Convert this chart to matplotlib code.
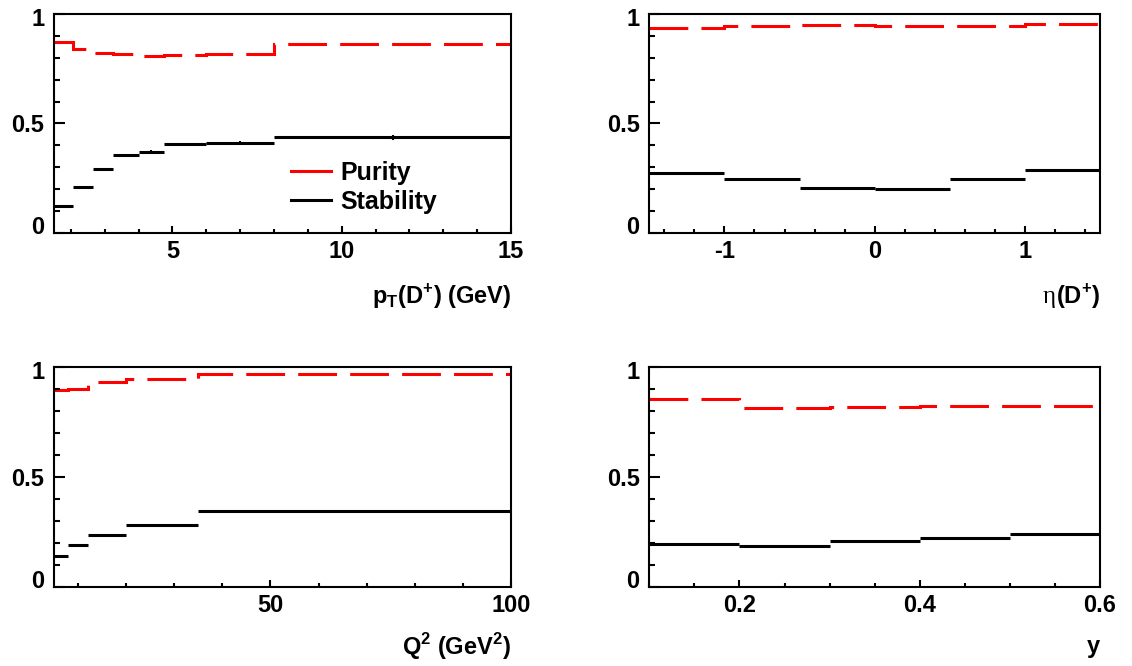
import numpy as np
import matplotlib
matplotlib.use('Agg')
import matplotlib.pyplot as plt
from matplotlib.ticker import MultipleLocator, FixedLocator, FixedFormatter
from matplotlib.lines import Line2D
from matplotlib.transforms import ScaledTranslation

plt.rcParams['font.family'] = ['Liberation Sans', 'DejaVu Sans']
plt.rcParams['font.weight'] = 'bold'
plt.rcParams['axes.labelweight'] = 'bold'
plt.rcParams['axes.unicode_minus'] = False

# pT(D+) bins
pt_edges = [1.5, 2.07, 2.65, 3.25, 4.0, 4.75, 6.0, 8.0, 15.0]
pt_purity = [0.872, 0.842, 0.821, 0.818, 0.808, 0.811, 0.818, 0.862]
pt_stab = [0.125, 0.210, 0.290, 0.354, 0.372, 0.407, 0.413, 0.436]
pt_err = [0.004, 0.004, 0.004, 0.005, 0.005, 0.006, 0.007, 0.010]

# eta(D+) bins
eta_edges = [-1.5, -1.0, -0.5, 0.0, 0.5, 1.0, 1.5]
eta_purity = [0.938, 0.947, 0.948, 0.945, 0.947, 0.954]
eta_stab = [0.274, 0.248, 0.204, 0.202, 0.248, 0.287]
eta_err = [0.004, 0.004, 0.004, 0.004, 0.004, 0.004]

# Q2 bins
q2_edges = [5, 8, 12, 20, 35, 100]
q2_purity = [0.893, 0.898, 0.932, 0.944, 0.968]
q2_stab = [0.142, 0.193, 0.236, 0.284, 0.347]
q2_err = [0.004, 0.004, 0.004, 0.004, 0.004]

# y bins
y_edges = [0.1, 0.2, 0.3, 0.4, 0.5, 0.6]
y_purity = [0.852, 0.811, 0.816, 0.823, 0.823]
y_stab = [0.195, 0.187, 0.211, 0.224, 0.242]
y_err = [0.004, 0.004, 0.004, 0.004, 0.004]

FS = 17
DASH = (0, (12.7, 4.3))

fig = plt.figure(figsize=(11.32, 6.66), dpi=100)
ax1 = fig.add_axes([0.0477, 0.6502, 0.4037, 0.3288])
ax2 = fig.add_axes([0.5736, 0.6502, 0.3981, 0.3288])
ax3 = fig.add_axes([0.0477, 0.1182, 0.4037, 0.3312])
ax4 = fig.add_axes([0.5736, 0.1182, 0.3981, 0.3312])


def panel(ax, edges, pur, stab, err, xmajor, xlabels, xminor, xlabel, labely):
    edges = np.array(edges)
    ax.stairs(pur, edges, baseline=None, color='red', lw=2.2, linestyle=DASH)
    ax.hlines(stab, edges[:-1], edges[1:], color='black', lw=2.2, capstyle='butt')
    centers = 0.5 * (edges[:-1] + edges[1:])
    ax.errorbar(centers, stab, yerr=err, fmt='none', ecolor='black', elinewidth=1.5, capsize=0)
    ax.set_xlim(edges[0], edges[-1])
    ax.set_ylim(0, 1)
    ax.xaxis.set_major_locator(FixedLocator(xmajor))
    ax.xaxis.set_major_formatter(FixedFormatter(xlabels))
    ax.xaxis.set_minor_locator(MultipleLocator(xminor))
    ax.yaxis.set_major_locator(FixedLocator([0, 0.5, 1]))
    ax.yaxis.set_major_formatter(FixedFormatter(['0', '0.5', '1']))
    ax.yaxis.set_minor_locator(MultipleLocator(0.1))
    ax.tick_params(axis='both', which='both', direction='in', width=1.5,
                   top=False, right=False, labelsize=FS)
    ax.tick_params(axis='y', which='major', length=8, pad=7)
    ax.tick_params(axis='y', which='minor', length=4.3)
    ax.tick_params(axis='x', which='major', length=5, pad=5)
    ax.tick_params(axis='x', which='minor', length=3)
    for s in ax.spines.values():
        s.set_linewidth(1.5)
    # ROOT nudges the end labels of the y axis inwards
    for t, dy in zip(ax.yaxis.get_major_ticks(), [8, 0, -3.5]):
        t.label1.set_transform(t.label1.get_transform()
                               + ScaledTranslation(0, dy / 100, fig.dpi_scale_trans))
    lab = ax.set_xlabel(xlabel, fontsize=FS, ha='right', va='center')
    ax.xaxis.set_label_coords(1.0, labely)
    return lab


panel(ax1, pt_edges, pt_purity, pt_stab, pt_err, [5, 10, 15], ['5', '10', '15'], 1,
      r'p$_\mathregular{T}$(D$^\mathregular{+}$) (GeV)', -64 / 219)
lab2 = panel(ax2, eta_edges, eta_purity, eta_stab, eta_err, [-1, 0, 1], ['-1', '0', '1'], 0.2,
             r'(D$^\mathregular{+}$)', -64 / 219)
ax2.annotate('η', xy=(0, 0), xycoords=lab2, xytext=(0, 3), textcoords='offset pixels',
             ha='right', va='bottom', fontsize=FS + 1, fontweight='normal',
             family=['Liberation Serif', 'DejaVu Serif'], annotation_clip=False)
panel(ax3, q2_edges, q2_purity, q2_stab, q2_err, [50, 100], ['50', '100'], 10,
      r'Q$^\mathregular{2}$ (GeV$^\mathregular{2}$)', -59 / 220.6)
panel(ax4, y_edges, y_purity, y_stab, y_err, [0.2, 0.4, 0.6], ['0.2', '0.4', '0.6'], 0.05,
      'y', -59 / 220.6)

handles = [Line2D([], [], color='red', lw=2.2), Line2D([], [], color='black', lw=2.2)]
ax1.legend(handles, ['Purity', 'Stability'], loc='center left', bbox_to_anchor=(0.518, 0.208),
           frameon=False, prop={'weight': 'bold', 'size': 18}, handlelength=1.6,
           handletextpad=0.4, labelspacing=0.2, borderpad=0, borderaxespad=0)

fig.savefig('out.png', dpi=100)
